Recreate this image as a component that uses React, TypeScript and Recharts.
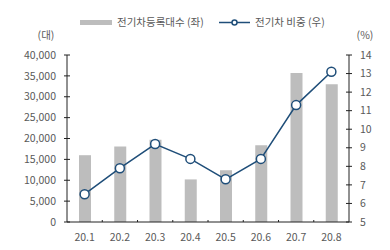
import { ComposedChart, Bar, Line, XAxis, YAxis, Legend } from 'recharts';

const months = ['20.1', '20.2', '20.3', '20.4', '20.5', '20.6', '20.7', '20.8'];
const registrations = [16000, 18100, 19700, 10200, 12400, 18400, 35700, 33000];
const shares = [6.5, 7.9, 9.2, 8.4, 7.3, 8.4, 11.3, 13.1];
const leftTicks = [0, 5000, 10000, 15000, 20000, 25000, 30000, 35000, 40000];
const rightTicks = [5, 6, 7, 8, 9, 10, 11, 12, 13, 14];
const barName = '전기차등록대수 (좌)';
const lineName = '전기차 비중 (우)';

const data = months.map((m, i) => ({
  month: m,
  count: registrations[i],
  share: shares[i],
}));

const FONT = '"Noto Sans CJK KR", "Noto Sans", sans-serif';
const TEXT = '#595959';
const NAVY = '#1f4e79';
const GRAY = '#bdbdbd';
const FS = 10.5;

const LeftTick = ({ x, y, payload }) => (
  <g>
    <line x1={x - 3} x2={x + 3} y1={y} y2={y} stroke="#222" />
    <text x={x - 11} y={y} dy="0.35em" textAnchor="end" fontSize={FS} fill={TEXT} fontFamily={FONT}>
      {payload.value.toLocaleString('en-US')}
    </text>
  </g>
);

const RightTick = ({ x, y, payload }) => (
  <g>
    <line x1={x - 3} x2={x + 3} y1={y} y2={y} stroke="#222" />
    <text x={x + 11} y={y} dy="0.35em" textAnchor="start" fontSize={FS} fill={TEXT} fontFamily={FONT}>
      {payload.value}
    </text>
  </g>
);

const BottomTick = ({ x, y, payload, index }) => (
  <g>
    {index > 0 && <line x1={x - 17.6} x2={x - 17.6} y1={y} y2={y - 2} stroke="#222" />}
    <text x={x} y={y + 15} dy="0.35em" textAnchor="middle" fontSize={FS} fill={TEXT} fontFamily={FONT}>
      {payload.value}
    </text>
  </g>
);

const LegendBox = () => (
  <svg width={390} height={30} style={{ display: 'block' }}>
    <rect x={80} y={20} width={32} height={5} fill={GRAY} />
    <text x={117} y={22.5} dy="0.35em" fontSize={FS} fill={TEXT} fontFamily={FONT}>
      {barName}
    </text>
    <line x1={219} x2={250} y1={22.5} y2={22.5} stroke={NAVY} strokeWidth={1.5} />
    <circle cx={234.5} cy={22.5} r={2.5} fill="#fff" stroke={NAVY} strokeWidth={1.5} />
    <text x={255} y={22.5} dy="0.35em" fontSize={FS} fill={TEXT} fontFamily={FONT}>
      {lineName}
    </text>
  </svg>
);

export default function App() {
  return (
    <div style={{ position: 'absolute', left: 0, top: 0 }}>
      <style>{'body{margin:0}'}</style>
      <ComposedChart
        width={390}
        height={250}
        data={data}
        margin={{ top: 25, right: 0, left: 0, bottom: 0 }}
      >
        <Legend
          verticalAlign="top"
          content={LegendBox}
          wrapperStyle={{ top: 0, left: 0, width: 390, height: 30 }}
        />
        <XAxis
          dataKey="month"
          height={28}
          axisLine={{ stroke: '#222' }}
          tickLine={false}
          tickSize={0}
          tickMargin={0}
          tick={BottomTick}
          interval={0}
        />
        <YAxis
          yAxisId="left"
          width={67}
          domain={[0, 40000]}
          ticks={leftTicks}
          interval={0}
          axisLine={{ stroke: '#222' }}
          tickLine={false}
          tickSize={0}
          tickMargin={0}
          tick={LeftTick}
          label={{
            value: '(대)',
            content: () => (
              <text x={46} y={35} dy="0.35em" textAnchor="middle" fontSize={FS} fill={TEXT} fontFamily={FONT}>
                (대)
              </text>
            ),
          }}
        />
        <YAxis
          yAxisId="right"
          orientation="right"
          width={41}
          domain={[5, 14]}
          ticks={rightTicks}
          interval={0}
          axisLine={{ stroke: '#222' }}
          tickLine={false}
          tickSize={0}
          tickMargin={0}
          tick={RightTick}
          label={{
            value: '(%)',
            content: () => (
              <text x={365} y={35} dy="0.35em" textAnchor="middle" fontSize={FS} fill={TEXT} fontFamily={FONT}>
                (%)
              </text>
            ),
          }}
        />
        <Bar
          yAxisId="left"
          dataKey="count"
          name={barName}
          fill={GRAY}
          barSize={12}
          isAnimationActive={false}
        />
        <Line
          yAxisId="right"
          dataKey="share"
          name={lineName}
          stroke={NAVY}
          strokeWidth={1.5}
          dot={{ r: 4.5, fill: '#fff', stroke: NAVY, strokeWidth: 1.5 }}
          isAnimationActive={false}
        />
      </ComposedChart>
    </div>
  );
}
